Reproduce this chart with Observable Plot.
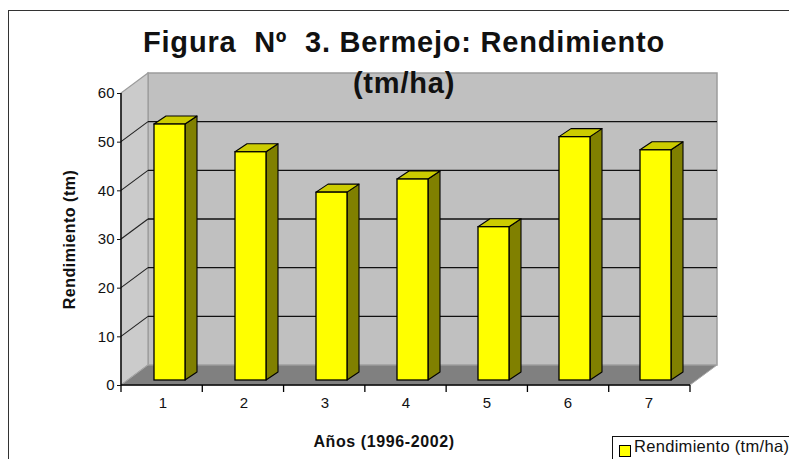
<!DOCTYPE html>
<html>
<head>
<meta charset="utf-8">
<script src="https://cdn.jsdelivr.net/npm/d3@7"></script>
<script src="https://cdn.jsdelivr.net/npm/@observablehq/plot@0.6"></script>
<style>
  html, body { margin: 0; padding: 0; background: #fff; overflow: hidden; }
  #wrap { position: relative; width: 789px; height: 459px; overflow: hidden; font-family: "Liberation Sans", Arial, sans-serif; }
  #frame { position: absolute; left: 8px; top: 10px; width: 900px; height: 600px; border: 1.5px solid #333; box-sizing: border-box; }
  #chart { position: absolute; left: 0; top: 0; }
  #legend { position: absolute; left: 612px; top: 436px; width: 300px; height: 100px; border: 1px solid #111; background: #fff; box-sizing: border-box; }
  #legend .sw { position: absolute; left: 6px; top: 8px; width: 10px; height: 10px; background: #ffff00; border: 1px solid #000; }
  #legend .lb { position: absolute; left: 21px; top: 0px; font-size: 16.5px; line-height: 18px; color: #111; white-space: nowrap; letter-spacing: 0.3px; }
</style>
</head>
<body>
<div id="wrap">
  <div id="frame"></div>
  <div id="chart"></div>
  <div id="legend"><div class="sw"></div><div class="lb">Rendimiento (tm/ha)</div></div>
</div>
<script>
// ---- data ----
const years = ["1", "2", "3", "4", "5", "6", "7"];
const rendimiento = [52.6, 46.9, 38.6, 41.3, 31.5, 50.0, 47.3];
const yTicks = [0, 10, 20, 30, 40, 50, 60];
const titleText = "Figura\u00a0 N\u00ba\u00a0 3. Bermejo: Rendimiento\n(tm/ha)";
const xTitle = "Años (1996-2002)";
const yTitle = "Rendimiento (tm)";

const data = years.map((year, i) => ({year, value: rendimiento[i]}));

// ---- 3D styling (pixel offsets) ----
const DX = 27, DY = -20;          // full depth of the plot box
const BF = [7, -5];               // bar front plane offset
const BB = [19, -13];             // bar back plane offset

function pts(a) { return a.map(p => p.join(",")).join(" "); }

function box3d(index, scales) {
  const {x, y} = scales;
  const [x0, x1] = x.range();
  const y0 = y(0), yT = y(yTicks[yTicks.length - 1]);
  const g = d3.create("svg:g");
  g.append("polygon").attr("points", pts([[x0 + DX, yT + DY], [x1 + DX, yT + DY], [x1 + DX, y0 + DY], [x0 + DX, y0 + DY]]))
    .attr("fill", "#c0c0c0").attr("stroke", "#9c9c9c").attr("stroke-width", 1.5);
  g.append("polygon").attr("points", pts([[x0, y0], [x0 + DX, y0 + DY], [x0 + DX, yT + DY], [x0, yT]]))
    .attr("fill", "#cbcbcb").attr("stroke", "#9c9c9c").attr("stroke-width", 1.2);
  g.append("polygon").attr("points", pts([[x0, y0], [x1, y0], [x1 + DX, y0 + DY], [x0 + DX, y0 + DY]]))
    .attr("fill", "#808080").attr("stroke", "#a8a8a8").attr("stroke-width", 1);
  for (const t of yTicks) {
    if (t === 0 || t === yTicks[yTicks.length - 1]) continue;
    const yy = y(t);
    g.append("line").attr("x1", x0 + DX).attr("x2", x1 + DX).attr("y1", yy + DY).attr("y2", yy + DY)
      .attr("stroke", "#111").attr("stroke-width", 1.3);
    g.append("line").attr("x1", x0).attr("x2", x0 + DX).attr("y1", yy).attr("y2", yy + DY)
      .attr("stroke", "#222").attr("stroke-width", 1.1);
  }
  g.append("line").attr("x1", x0).attr("x2", x0).attr("y1", y0).attr("y2", yT).attr("stroke", "#000").attr("stroke-width", 1.4);
  g.append("line").attr("x1", x0).attr("x2", x1).attr("y1", y0).attr("y2", y0).attr("stroke", "#000").attr("stroke-width", 1.4);
  const step = (x1 - x0) / years.length;
  for (let i = 0; i <= years.length; i++) {
    const xx = x0 + i * step;
    g.append("line").attr("x1", xx).attr("x2", xx).attr("y1", y0).attr("y2", y0 + 7).attr("stroke", "#000").attr("stroke-width", 1.3);
  }
  return g.node();
}

function barFaces(index, scales) {
  const {x, y} = scales;
  const bw = x.bandwidth();
  const g = d3.create("svg:g");
  const ddx = BB[0] - BF[0], ddy = BB[1] - BF[1];
  data.forEach(d => {
    const xl = x(d.year) + BF[0], xr = xl + bw;
    const yt = y(d.value) + BF[1], yb = y(0) + BF[1];
    g.append("polygon").attr("points", pts([[xr, yb], [xr + ddx, yb + ddy], [xr + ddx, yt + ddy], [xr, yt]]))
      .attr("fill", "#808000").attr("stroke", "#000").attr("stroke-width", 1.1).attr("stroke-linejoin", "round");
    g.append("polygon").attr("points", pts([[xl, yt], [xl + ddx, yt + ddy], [xr + ddx, yt + ddy], [xr, yt]]))
      .attr("fill", "#cccc00").attr("stroke", "#000").attr("stroke-width", 1.1).attr("stroke-linejoin", "round");
  });
  return g.node();
}

const chart = Plot.plot({
  width: 789,
  height: 459,
  marginLeft: 121,
  marginRight: 99,
  marginTop: 93,
  marginBottom: 74,
  style: {background: "transparent", fontFamily: "Liberation Sans, Arial, sans-serif", color: "#111", overflow: "visible"},
  x: {type: "band", domain: years, paddingInner: 0.62, paddingOuter: 0.31},
  y: {domain: [0, 60]},
  marks: [
    box3d,
    barFaces,
    Plot.barY(data, {x: "year", y: "value", dx: BF[0], dy: BF[1], fill: "#ffff00", stroke: "#000", strokeWidth: 1.3}),
    Plot.axisY({ticks: yTicks, tickSize: 4, tickPadding: 3, fontSize: 15, label: null}),
    Plot.axisX({tickSize: 0, tickPadding: 12, fontSize: 15, label: null}),
    Plot.text([yTitle], {text: d => d, frameAnchor: "left", rotate: -90, textAnchor: "middle", lineAnchor: "middle", dx: -52, fontSize: 16, fontWeight: "bold", fill: "#111", ariaDescription: "ytitle"}),
    Plot.text([xTitle], {text: d => d, frameAnchor: "bottom", textAnchor: "middle", lineAnchor: "bottom", dx: -22, dy: 61, fontSize: 16, fontWeight: "bold", fill: "#111", ariaDescription: "xtitle"}),
    Plot.text([titleText], {text: d => d, frameAnchor: "top", textAnchor: "middle", lineAnchor: "bottom", dx: -2, dy: -1, fontSize: 29, fontWeight: "bold", lineHeight: 1.38, fill: "#111", ariaDescription: "title"})
  ]
});
// letter spacing adjustments on the text marks
d3.select(chart).selectAll('g[aria-description="title"] text').style("letter-spacing", "0.8px");
d3.select(chart).selectAll('g[aria-description="xtitle"] text').style("letter-spacing", "0.6px");
d3.select(chart).selectAll('g[aria-description="ytitle"] text').style("letter-spacing", "0.5px");
document.getElementById("chart").appendChild(chart);
</script>
</body>
</html>
